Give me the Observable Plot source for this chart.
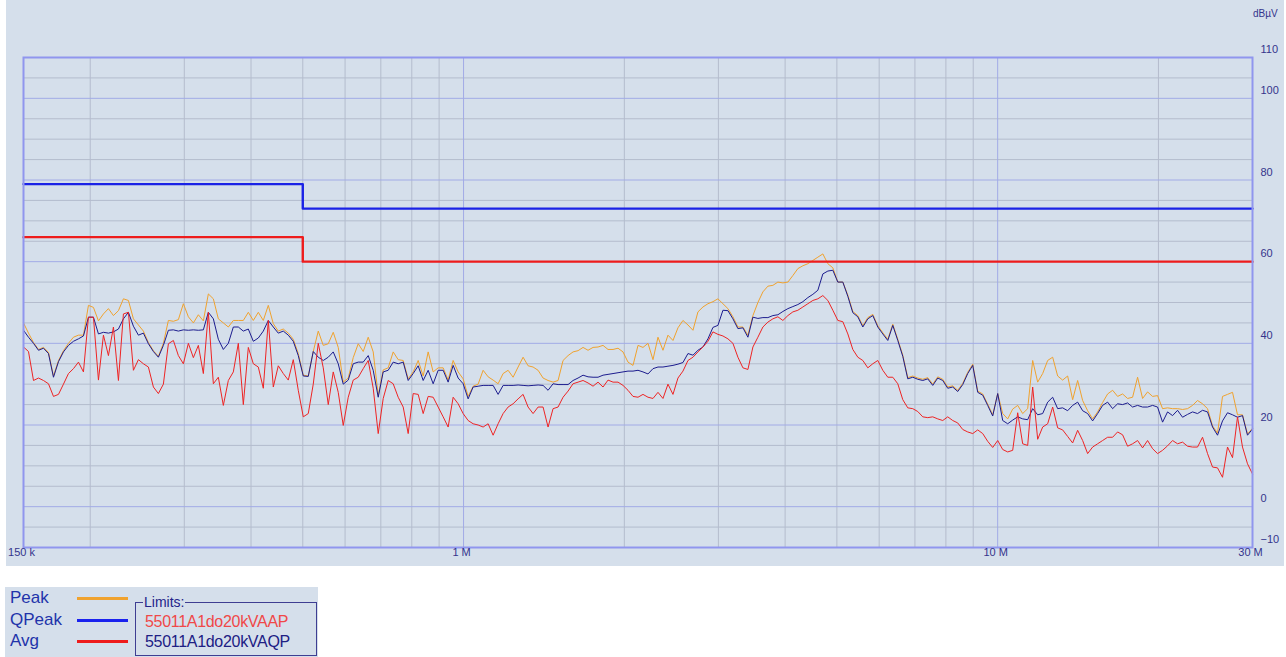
<!DOCTYPE html>
<html><head><meta charset="utf-8">
<script src="https://cdn.jsdelivr.net/npm/d3@7"></script>
<script src="https://cdn.jsdelivr.net/npm/@observablehq/plot@0.6"></script>
<style>
html,body{margin:0;padding:0;background:#ffffff;width:1286px;height:657px;overflow:hidden;font-family:"Liberation Sans",Arial,sans-serif;}
#panel{position:absolute;left:6px;top:0;width:1278px;height:566px;background:#d5dfeb;}
#chart{position:absolute;left:0;top:0;}
#unit{position:absolute;left:1253px;top:8px;font-size:10px;line-height:12px;color:#34348c;}
#legend{position:absolute;left:5px;top:587px;width:313px;height:70px;background:#d5dfeb;}
.lg{position:absolute;white-space:nowrap;}
</style></head><body>
<div id="panel"></div>
<div id="chart"></div>
<div id="unit">dBµV</div>
<div id="legend"></div>
<script>
// Frequency sweep: 150 kHz .. 30 MHz, logarithmic points (MHz)
const fStartMHz = 0.15, fStopMHz = 30;

// Peak detector trace (dBµV)
const peakDb = [45,42.5,40.2,38.5,39,37.8,32,35.8,38.2,40,41.5,42,42,49.3,48.8,45.5,47.2,48.5,46.8,48,50.9,50.5,46,44.5,43,40.2,38.2,36.8,40,45.6,45.4,45.8,49.7,46.5,45,47,45.5,52.1,50.9,46,45,44,
45.6,45.6,45.6,47.6,45.6,47.6,45.6,49.3,44.8,43,43.5,42.5,41,37.5,32.2,32,38,43,39.5,39.9,42.7,39,30.5,31.5,36.5,39.9,38,41.5,37.9,27.2,33.5,34,37.9,36,35.8,31.3,33,35.8,32,37.9,33,
34,34,31,35.8,33,31.3,27,29.5,30,33.4,31.8,31,30.1,32.6,33.4,31.7,34.2,36.6,34.5,34.2,33.4,31.5,30.9,30.5,30.9,35.8,37,37.9,38.2,39,38.3,39,39.1,39.5,38.5,38.5,38.8,37.9,35.4,34.6,
39.5,39,40,36,41.5,38.3,42,40.7,43.8,45.6,44.5,43.2,47.7,48.9,49.7,50.2,50.9,49.7,48.5,46.5,44,44,42,46.8,50,52.6,54,54.2,55,54.8,55,56.6,58.3,59,59.5,60.3,61.1,61.9,59.5,58.5,55,55,
51.8,47.8,46.8,44.3,46.3,47.1,44.3,42.6,41,44.7,41,37.1,31.6,32,31.5,31.2,31.6,30,31.8,31.2,29.3,29.6,28.5,30.2,32.9,34.9,28.3,27.6,25.1,22.5,27.7,22.8,21.5,23.9,24.8,22.8,24,35.8,30.5,32.6,35.8,
36.6,32,31,32,26.2,30.9,26,23.5,21.5,23.2,25.5,27.6,28.5,27,27.6,26.5,26.8,31.7,26.5,28.1,27,27.2,24,24.2,24,24,23.8,24,24.8,26,25.2,24,19.8,18,27,27.5,28,22.5,22.5,17.8,19.2];

// Quasi-peak detector trace (dBµV)
const qpeakDb = [43.2,41.5,40,38.3,38.8,37.5,31.7,35.5,37.9,39.5,40.5,41.1,41.8,46.4,46.4,42.3,42.7,42.5,42.8,43.5,46,47.6,44.2,42,42.5,39.9,38,36.6,39.5,43.2,43.3,43.0,43.3,43.2,43.3,43.2,43.3,47.6,46,41,38.5,40,
44,44,43,43.5,40.5,41.3,43,45.6,44,42.5,43,42,40.5,37,32,31.9,38,36.6,35.8,36.6,37.9,35,30,31,35,35.4,35.4,37,33.4,26.8,33,33.4,35.4,35,35.4,30.9,32.6,34.5,30.9,33.4,30.1,
33.4,33.4,30.5,34.6,31.5,30.1,26.4,29.3,29.5,29.7,29.7,29.7,27.5,29.7,29.7,29.7,29.8,29.7,29.6,29.7,29.8,29.7,28.5,30.1,29.9,29.9,29.9,30.9,31.5,32.2,31.8,31.7,31.7,32.2,32.4,32.6,32.8,33,33.2,33.2,
33.4,33,32.5,33.8,34.2,34.2,34.4,34.6,34.9,35.3,37.5,37.1,38.3,39.1,41.1,43.9,44.4,48.1,48,46,43.6,43.8,41.5,46.4,46.1,46.3,46.3,46.8,47,47.8,48.5,49,49.5,50.2,51.2,52,53,57,57.7,57.9,55,55,
51.5,47.5,46.5,44,46,46.8,44,42.3,40.7,44.4,40.7,36.8,31.3,31.7,31.2,30.9,31.3,29.7,31.5,30.9,29,29.3,28.2,29.9,32.6,34.6,28,27.3,24.8,22.2,27.7,21.1,20.3,21.2,22,21.5,21.3,24,22.5,22.8,25.6,
26.8,24,24.2,23.5,24.8,25.6,23.5,22.8,21,22.8,24.8,25.6,24,25.2,25,25.4,24.4,24.8,24.4,24.4,24.8,24.4,20.7,23.2,22.3,23.6,21.9,22.6,23.2,22.8,23.6,23.2,19.5,17.5,21,23,22.5,21.9,22.3,17.5,19];

// Average detector trace (dBµV)
const avgDb = [39.1,38,30.9,31.5,30.9,30.1,27,27.5,30,32.6,33.8,35.4,33,46.4,46.4,31,42,37,44,30.9,47.2,47.6,33.4,36,35,34.2,29.3,27.7,30,39.9,40.7,37,35,40,36.5,39.5,32.6,47.6,30.1,31.7,24.8,30.9,
33,40,25,39,35,34.2,29,45.6,29.3,34.5,32.6,31,36,28.5,22,22.8,30,40,34,25,33,28,19.9,26.8,31,31.7,33.8,35.8,29,17.9,26.5,30.9,30.1,26.8,24.4,17.9,27.7,27.5,22.8,27,26.8,
24.4,22,19.5,26.8,25.2,22.8,21.1,20.3,20,19.5,20.3,17.5,20.3,22.8,24.4,25.2,26.4,27.5,24.4,22.8,24.4,24.4,19.5,24,24.4,26.8,28.3,30.1,30.5,30.9,30.3,29.5,30.5,29.3,31,30.5,30.5,29.7,28.5,27,
26.8,27.5,26.8,26.5,28,26.5,30,27.5,31.5,33.2,35.8,36.6,37.9,39.1,40.5,42.8,42.2,41.8,41.1,40,36.6,34,33.6,39.1,41.5,44,45.2,46,46.5,45.6,46.8,47.7,48.1,48.9,49.7,50.5,50.9,51.7,50.5,48.1,45.6,45.3,
42.3,38.5,36.6,35.8,34,35,35.8,33.4,31.7,31.7,30.1,26.2,24.2,24,23.3,22,21.8,22,21.5,21.1,22,21.1,20.5,18.9,18.3,17.9,18.8,17.9,16,14.5,16.2,14,13.4,13.8,23,15.4,15,29.3,16.5,19.5,20.3,
24.4,19.3,18.8,17.2,15.6,18.7,16.2,13,14.6,15.4,16.2,17,17,18.3,17.6,14.8,15.4,16.2,14.4,16.2,14.2,13,13.8,14.9,16.2,15.4,15.8,14.8,14.6,14.6,17,13,9.7,9.5,7.2,14.6,12,22,14.6,10.5,8];

// Limit lines (EN 55011 class A)
const limitF = [0.15, 0.5, 0.5, 30];
const limitQpDb = [79, 79, 73, 73];   // 55011A1do20kVAQP
const limitAvDb = [66, 66, 60, 60];   // 55011A1do20kVAAP

// Axes
const yTicks = [110, 100, 80, 60, 40, 20, 0, -10];
const xTicks = [0.15, 1, 10, 30];
const xTickLabels = ["150 k", "1 M", "10 M", "30 M"];
const gridXMinor = [0.2,0.3,0.4,0.5,0.6,0.7,0.8,0.9,2,3,4,5,6,7,8,9,20];
const gridXMajor = [1, 10];
const gridYMinor = [-5,5,10,15,25,30,35,45,50,55,65,70,75,85,90,95,105];
const gridYMajor = [0,20,40,60,80,100];

const N = peakDb.length;
const freqs = d3.range(N).map(i => fStartMHz * Math.pow(fStopMHz / fStartMHz, i / (N - 1)));
const toRows = arr => arr.map((v, i) => ({f: freqs[i], v}));
const peak = toRows(peakDb), qpeak = toRows(qpeakDb), avg = toRows(avgDb);
const limQp = limitF.map((f, i) => ({f, v: limitQpDb[i]}));
const limAv = limitF.map((f, i) => ({f, v: limitAvDb[i]}));

const chart = Plot.plot({
  width: 1286, height: 575,
  marginLeft: 23, marginRight: 34, marginTop: 57, marginBottom: 28,
  x: {type: "log", domain: [fStartMHz, fStopMHz]},
  y: {domain: [-10, 110]},
  style: {background: "transparent", fontFamily: "'Liberation Sans', Arial, sans-serif", fontSize: "11px", color: "#34348c", overflow: "visible"},
  marks: [
    Plot.ruleY(gridYMinor, {stroke: "#b4bccd", strokeWidth: 1}),
    Plot.ruleX(gridXMinor, {stroke: "#b4bccd", strokeWidth: 1}),
    Plot.ruleY(gridYMajor, {stroke: "#a2abe6", strokeWidth: 1}),
    Plot.ruleX(gridXMajor, {stroke: "#a2abe6", strokeWidth: 1}),
    Plot.line(peak, {x: "f", y: "v", stroke: "#f0a22e", strokeWidth: 1}),
    Plot.line(qpeak, {x: "f", y: "v", stroke: "#1c1c8e", strokeWidth: 1}),
    Plot.line(avg, {x: "f", y: "v", stroke: "#ee2424", strokeWidth: 1}),
    Plot.line(limAv, {x: "f", y: "v", stroke: "#ee1c1c", strokeWidth: 2.4}),
    Plot.line(limQp, {x: "f", y: "v", stroke: "#1a22e6", strokeWidth: 2.4}),
    Plot.frame({stroke: "#9096ee", strokeWidth: 2}),
    Plot.axisY(yTicks, {anchor: "right", tickSize: 0, tickPadding: 8, dy: -8, textAnchor: "start", label: null}),
    Plot.axisX(xTicks, {anchor: "bottom", tickSize: 0, tickPadding: 1, dx: -2, label: null,
      tickFormat: d => xTickLabels[xTicks.indexOf(d)]})
  ]
});
document.getElementById("chart").appendChild(chart);

// Legend
const legend = document.getElementById("legend");
const ox = 5, oy = 587;
function add(html, style) {
  const el = document.createElement("div");
  el.className = "lg";
  el.innerHTML = html;
  Object.assign(el.style, style);
  legend.appendChild(el);
  return el;
}
const traces = [
  {name: "Peak", color: "#f0a22e", y: 598},
  {name: "QPeak", color: "#1a22ee", y: 620},
  {name: "Avg", color: "#ee1c1c", y: 641}
];
traces.forEach(t => {
  add(t.name, {left: (10 - ox) + "px", top: (t.y - oy - 10) + "px", fontSize: "17px", lineHeight: "20px", color: "#2233aa"});
  add("", {left: (77 - ox) + "px", top: (t.y - oy - 1) + "px", width: "51px", height: "3px", background: t.color});
});
add("", {left: (135 - ox) + "px", top: (602 - oy) + "px", width: "180px", height: "52px", border: "1px solid #3e3e92"});
add("Limits:", {left: (143 - ox) + "px", top: (594 - oy) + "px", fontSize: "14px", lineHeight: "16px", color: "#24248a", background: "#d5dfeb", padding: "0 1px"});
const limitNames = [{name: "55011A1do20kVAAP", color: "#f04848", y: 622}, {name: "55011A1do20kVAQP", color: "#202084", y: 642}];
limitNames.forEach(l => add(l.name, {left: (145 - ox) + "px", top: (l.y - oy - 9) + "px", fontSize: "16px", lineHeight: "18px", color: l.color, letterSpacing: "-0.3px"}));
</script>
</body></html>
